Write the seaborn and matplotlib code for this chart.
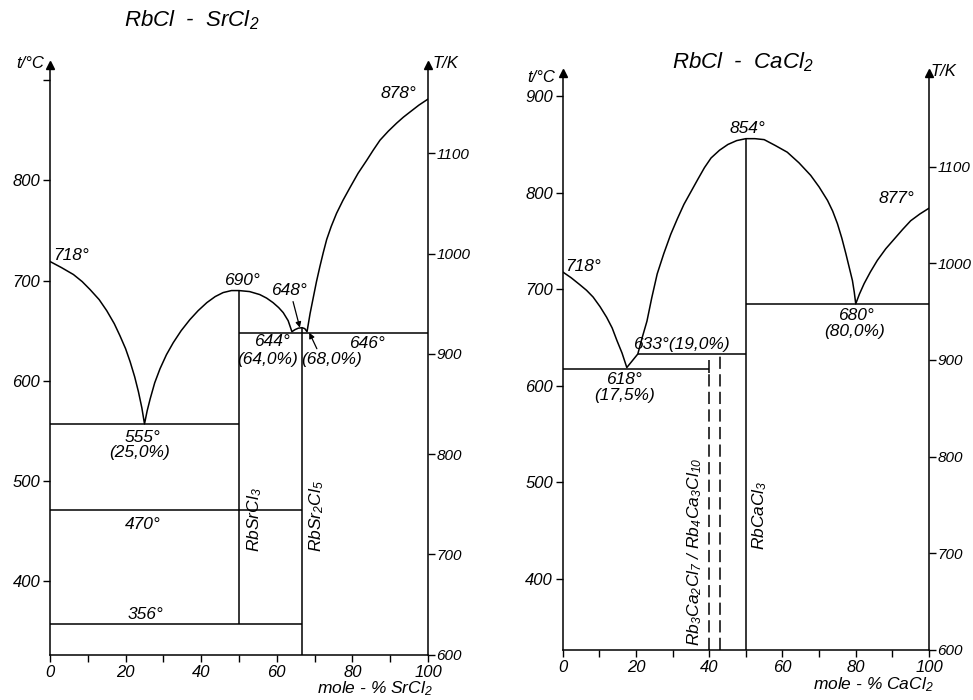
import matplotlib
matplotlib.use("Agg")
import matplotlib.pyplot as plt
import seaborn as sns

# --- RbCl - SrCl2 : liquidus curve (mole-% SrCl2, t/degC) ---
sr_liq_x = [0, 3, 6.2, 8.5, 10.6, 13, 15, 17, 18.5, 20, 21.2, 22.4, 23.4, 24.3, 25,
            25.7, 26.5, 27.7, 29.1, 30.8, 32.6, 34.7, 37, 39.2, 41.5, 43.7, 45.8, 48, 50,
            52.8, 55.5, 57.3, 59, 60.5, 61.7, 63, 64,
            64.8, 65.7, 66.7, 67.4, 68,
            68.8, 69.7, 70.5, 71.4, 72.3, 73.2, 74.4, 75.8, 77.5, 79.4, 81.5, 83.8, 85.5,
            87.3, 89.5, 91.7, 93.5, 95.2, 97.6, 100]
sr_liq_t = [719, 713, 706, 699, 691, 681, 670, 657, 645, 632, 619, 604, 589, 573, 557,
            570, 582, 598, 612, 626, 638, 650, 661, 670, 678, 684, 688, 690, 690,
            689, 686, 682.5, 678, 673, 668, 660, 649,
            651, 652.5, 653, 652, 649,
            667, 684, 699, 714, 728, 741, 754, 767, 780, 793, 807, 820, 830,
            840, 849, 857, 863, 868, 875, 881]
# invariant (horizontal) lines
sr_inv_t = [557, 471, 357, 648, 648]
sr_inv_from = [0, 0, 0, 50, 66.7]
sr_inv_to = [50, 66.7, 66.7, 66.7, 100]
# compounds RbSrCl3, RbSr2Cl5
sr_cmp_x = [50, 66.7]
sr_cmp_top = [690, 653]
sr_cmp_bot = [357, 326.5]

# --- RbCl - CaCl2 ---
ca_liq_x = [0, 2.3, 4.6, 6.5, 8.3, 10.2, 12.0, 13.5, 14.8, 16.2, 17.5,
            20.5, 21.7, 23.0, 24.3, 25.8, 27.6, 29.5, 31.3, 33.1, 35, 36.9, 38.7, 40.5,
            42.8, 45.1, 47.5, 50,
            52.5, 55, 58, 61.3, 64.5, 67.7, 70, 72.3, 73.7, 75, 76.2, 77.3, 78.2, 79.1,
            79.6, 80,
            81, 82.3, 84, 85.9, 88.2, 90.5, 92.8, 95, 97.5, 100]
ca_liq_t = [718, 712, 705, 699, 692, 682, 671, 660, 647, 634, 619,
            633, 650, 667, 691, 716, 737, 757, 773, 788, 801, 814, 826, 836,
            844, 850, 854, 856,
            856, 855, 849, 842, 831, 818, 806, 792, 781, 768, 753, 737, 723, 709,
            697, 685,
            695, 706, 718, 730, 742, 752, 762, 771, 778, 784]
ca_inv_t = [618, 633, 685]
ca_inv_from = [0, 20.5, 50]
ca_inv_to = [40, 50, 100]
ca_cmp_x = [50]
ca_cmp_top = [856]
ca_cmp_bot = [326.5]
# Rb3Ca2Cl7 / Rb4Ca3Cl10 (dashed)
ca_dash_x = [40, 42.9]
ca_dash_top = [618, 633]

sns.set_theme(style="ticks", rc={"axes.edgecolor": "black", "xtick.color": "black",
                                 "ytick.color": "black", "text.color": "black",
                                 "axes.linewidth": 1.1})
plt.rcParams["font.family"] = ["Liberation Sans", "DejaVu Sans"]
plt.rcParams["font.style"] = "italic"
plt.rcParams["mathtext.fontset"] = "custom"
plt.rcParams["mathtext.rm"] = "Liberation Sans:italic"
plt.rcParams["mathtext.it"] = "Liberation Sans:italic"
plt.rcParams["mathtext.default"] = "it"

W, H = 973, 700
fig = plt.figure(figsize=(W / 100, H / 100), dpi=100)
axL = fig.add_axes([50 / W, 45 / H, 378 / W, 590 / H])
axR = fig.add_axes([562.7 / W, 50 / H, 366.3 / W, 577 / H])

LW = 1.1
FS = 12.5


def frame(ax, ymax, ylabels):
    ax.set_xlim(0, 100)
    ax.set_ylim(326.5, ymax)
    ax.spines["top"].set_visible(False)
    ax.spines["right"].set_visible(False)
    ax.set_xticks([0, 20, 40, 60, 80, 100])
    ax.set_xticks([10, 30, 50, 70, 90], minor=True)
    ax.set_yticks([400, 500, 600, 700, 800, 900])
    ax.set_yticklabels(ylabels)
    ax.tick_params(which="both", length=5, width=1, labelsize=12, pad=2)
    sec = ax.secondary_yaxis("right", functions=(lambda c: c + 273.15, lambda k: k - 273.15))
    sec.set_yticks([600, 700, 800, 900, 1000, 1100])
    sec.tick_params(length=5, width=1, labelsize=11, pad=1)
    sec.spines["right"].set_linewidth(1.1)
    ax.plot([0, 1], [1, 1], transform=ax.transAxes, ls="none", marker="^",
            color="black", ms=6, clip_on=False)
    ax.set_xlabel("")
    ax.set_ylabel("")


def draw(ax, lx, lt, it, i0, i1, cx, ctop, cbot):
    sns.lineplot(x=lx, y=lt, sort=False, estimator=None, color="black", lw=LW, ax=ax)
    ax.hlines(it, i0, i1, color="black", lw=LW)
    ax.vlines(cx, cbot, ctop, color="black", lw=LW)


# ---------------- left panel ----------------
draw(axL, sr_liq_x, sr_liq_t, sr_inv_t, sr_inv_from, sr_inv_to, sr_cmp_x, sr_cmp_top, sr_cmp_bot)
frame(axL, 915, ["400", "500", "600", "700", "800", ""])

axL.text(0.8, 725, "718°", fontsize=FS, ha="left", va="center")
axL.text(50.8, 700, "690°", fontsize=FS, ha="center", va="center")
axL.text(63.2, 690, "648°", fontsize=FS, ha="center", va="center")
axL.text(58.7, 639, "644°", fontsize=FS, ha="center", va="center")
axL.text(57.6, 621, "(64,0%)", fontsize=FS, ha="center", va="center")
axL.text(74.6, 621, "(68,0%)", fontsize=FS, ha="center", va="center")
axL.text(83.9, 637, "646°", fontsize=FS, ha="center", va="center")
axL.text(24.5, 543, "555°", fontsize=FS, ha="center", va="center")
axL.text(23.8, 528, "(25,0%)", fontsize=FS, ha="center", va="center")
axL.text(24.6, 457, "470°", fontsize=FS, ha="center", va="center")
axL.text(25.4, 367, "356°", fontsize=FS, ha="center", va="center")
axL.text(92.3, 887, "878°", fontsize=FS, ha="center", va="center")
axL.text(54.2, 462, "RbSrCl$_3$", fontsize=FS, rotation=90, ha="center", va="center")
axL.text(70.6, 465, "RbSr$_2$Cl$_5$", fontsize=FS, rotation=90, ha="center", va="center")
arrow = dict(arrowstyle="-|>", color="black", lw=0.9, mutation_scale=8, shrinkA=0, shrinkB=0)
axL.annotate("", xy=(66.1, 653), xytext=(64.3, 679), arrowprops=arrow)
axL.annotate("", xy=(68.6, 648), xytext=(70.6, 632), arrowprops=arrow)

# ---------------- right panel ----------------
draw(axR, ca_liq_x, ca_liq_t, ca_inv_t, ca_inv_from, ca_inv_to, ca_cmp_x, ca_cmp_top, ca_cmp_bot)
axR.vlines(ca_dash_x, 326.5, ca_dash_top, color="black", lw=LW, linestyles=(0, (8, 3.5)))
axR.vlines(ca_inv_to[0], ca_inv_t[0] - 5, ca_inv_t[0] + 9, color="black", lw=LW)
frame(axR, 924, ["400", "500", "600", "700", "800", "900"])

axR.text(0.6, 724, "718°", fontsize=FS, ha="left", va="center")
axR.text(50.5, 867, "854°", fontsize=FS, ha="center", va="center")
axR.text(91.2, 794, "877°", fontsize=FS, ha="center", va="center")
axR.text(80.0, 673, "680°", fontsize=FS, ha="center", va="center")
axR.text(79.8, 656, "(80,0%)", fontsize=FS, ha="center", va="center")
axR.text(32.3, 643, "633°(19,0%)", fontsize=FS, ha="center", va="center")
axR.text(16.8, 607, "618°", fontsize=FS, ha="center", va="center")
axR.text(17.0, 590, "(17,5%)", fontsize=FS, ha="center", va="center")
axR.text(36.0, 428, "Rb$_3$Ca$_2$Cl$_7$ / Rb$_4$Ca$_3$Cl$_{10}$", fontsize=FS,
         rotation=90, ha="center", va="center")
axR.text(53.9, 466, "RbCaCl$_3$", fontsize=FS, rotation=90, ha="center", va="center")

# titles and axis captions
fig.text(192 / W, 1 - 20 / H, "RbCl  -  SrCl$_2$", fontsize=16, ha="center", va="center")
fig.text(743 / W, 1 - 62 / H, "RbCl  -  CaCl$_2$", fontsize=16, ha="center", va="center")
fig.text(44 / W, 1 - 64 / H, "t/°C", fontsize=12, ha="right", va="center")
fig.text(432 / W, 1 - 64 / H, "T/K", fontsize=12, ha="left", va="center")
fig.text(555 / W, 1 - 77 / H, "t/°C", fontsize=12, ha="right", va="center")
fig.text(931 / W, 1 - 71 / H, "T/K", fontsize=12, ha="left", va="center")
fig.text(375 / W, 1 - 689 / H, "mole - % SrCl$_2$", fontsize=12.5, ha="center", va="center")
fig.text(873 / W, 1 - 685 / H, "mole - % CaCl$_2$", fontsize=12.5, ha="center", va="center")

fig.savefig("out.png", dpi=100, facecolor="white")
